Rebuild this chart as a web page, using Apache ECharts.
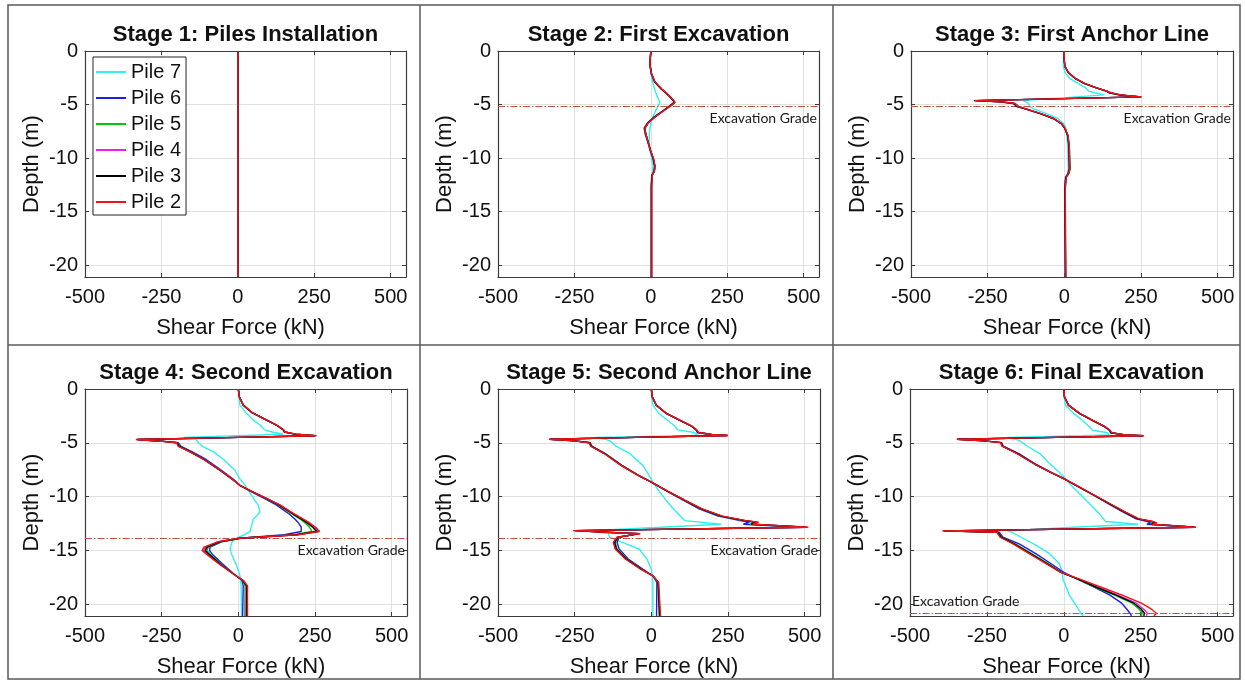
<!DOCTYPE html>
<html><head><meta charset="utf-8">
<script src="https://cdn.jsdelivr.net/npm/echarts@6/dist/echarts.min.js"></script>
<style>html,body{margin:0;padding:0;background:#fff}#c{width:1245px;height:682px}</style>
</head><body><div id="c"></div><script>
// ---------------- DATA ----------------
const pileNames = ['Pile 7', 'Pile 6', 'Pile 5', 'Pile 4', 'Pile 3', 'Pile 2'];
const stageTitles = ['Stage 1: Piles Installation', 'Stage 2: First Excavation', 'Stage 3: First Anchor Line',
  'Stage 4: Second Excavation', 'Stage 5: Second Anchor Line', 'Stage 6: Final Excavation'];
const xTicks = [-500, -250, 0, 250, 500];
const yTicks = [0, -5, -10, -15, -20];
const gradeDepth = [null, -5.2, -5.2, -13.9, -13.9, -20.85];
const gradeLabel = 'Excavation Grade';

// Stage 1
const s1Depth = [0, -21.1];
const s1P7 = [0, 0], s1P6 = [0, 0], s1P5 = [0, 0], s1P4 = [0, 0], s1P3 = [0, 0], s1P2 = [0, 0];

// Stage 2
const s2Depth = [0, -0.7, -1.3, -2.1, -2.9, -3.55, -4.1, -4.6, -4.8, -5.1, -5.6, -6.15, -6.7, -7.2, -7.7, -8.5, -9.3, -10.05, -10.75, -11.25, -11.6, -12.55, -21.1];
const s2P7 = [0, -1, -2, 0, 6, 12, 19, 26, 30, 24, 15, 7, 0, -3, -5, -5, -3, 3, 7, 6, 3, 2, 2];
const s2P6 = [0, -2, -3, 1, 12, 34, 56, 72, 76, 63, 38, 11, -11, -22, -19, -10, -2, 7, 12, 10, 3, 1, 1];
const s2P5 = [0, -2, -3, 2, 13, 34, 56, 73, 80, 66, 40, 13, -9, -20, -17, -9, -1, 8, 13, 11, 4, 2, 2];
const s2P4 = [0, -2, -3, 2, 13, 35, 57, 74, 78, 65, 40, 13, -9, -20, -17, -9, -1, 8, 13, 11, 4, 2, 2];
const s2P3 = [0, -2, -3, 2, 13, 35, 57, 73, 77, 64, 40, 13, -9, -20, -17, -9, -1, 8, 13, 11, 4, 2, 2];
const s2P2 = [0, -2, -3, 2, 14, 36, 58, 74, 78, 66, 41, 14, -8, -19, -17, -9, -1, 9, 14, 12, 5, 3, 3];

// Stage 3
const s3Depth = [0, -0.7, -1.45, -2.0, -2.55, -3.05, -3.45, -3.75, -3.9, -4.1, -4.28, -4.63, -4.75, -4.9, -5.2, -5.4, -5.85, -6.3, -6.8, -7.25, -7.9, -8.8, -11.0, -11.45, -11.8, -12.9, -21.1];
const s3P7 = [0, -3, -3, 2, 18, 46, 70, 80, 100, 130, 129, -134, -125, -117, -112, -100, -58, -22, -2, 5, 8, 11, 13, 10, 4, 2, 3];
const s3P6 = [0, -1, 2, 12, 34, 66, 104, 137, 142, 178, 246, -285, -200, -160, -148, -124, -76, -34, -8, 2, 11, 14, 16, 12, 4, 1, 3];
const s3P5 = [0, -1, 2, 13, 35, 66, 104, 137, 145, 180, 252, -290, -206, -163, -150, -126, -78, -35, -8, 3, 12, 16, 20, 15, 6, 3, 4];
const s3P4 = [0, -1, 2, 13, 35, 67, 105, 139, 148, 182, 250, -292, -208, -164, -152, -127, -78, -36, -9, 2, 11, 15, 17, 13, 5, 2, 4];
const s3P3 = [0, -1, 2, 13, 35, 67, 105, 138, 146, 180, 249, -295, -210, -166, -155, -128, -79, -36, -9, 2, 11, 15, 17, 13, 5, 2, 4];
const s3P2 = [0, -1, 2, 13, 36, 68, 106, 140, 150, 185, 252, -292, -205, -162, -150, -125, -77, -35, -8, 3, 12, 16, 18, 14, 6, 3, 5];

// Stage 4
const s4Depth = [0, -0.72, -1.5, -2.2, -2.8, -3.35, -3.8, -4.0, -4.2, -4.35, -4.5, -4.7, -4.85, -5.0, -5.3, -5.85, -6.55, -7.55, -8.35, -8.95, -9.6, -10.2, -10.8, -11.4, -11.6, -12.1, -12.4, -12.85, -13.25, -13.55, -13.87, -14.2, -14.7, -15.0, -15.35, -16.25, -17.2, -17.8, -18.3, -21.1];
const s4P7 = [0, 3, 5, 25, 45, 71, 86, 110, 146, 140, -178, -138, -133, -130, -118, -81, -48, -11, 5, 22, 37, 50, 65, 70, 66, 49, 46, 42, 38, 18, -5, -20, -26, -26, -22, -8, 4, 8, 9, 11];
const s4P6 = [0, 3, 16, 45, 86, 124, 147, 152, 185, 248, 2, -325, -250, -196, -188, -150, -105, -55, -18, 5, 46, 86, 125, 155, 165, 185, 195, 205, 205, 150, 5, -55, -92, -94, -85, -52, -14, 12, 16, 14];
const s4P5 = [0, 3, 16, 45, 86, 124, 147, 150, 185, 250, 2, -328, -252, -198, -193, -155, -111, -59, -20, 5, 49, 91, 132, 164, 175, 202, 216, 232, 240, 180, 5, -58, -98, -103, -92, -58, -15, 14, 22, 21];
const s4P4 = [0, 3, 16, 45, 86, 124, 147, 151, 186, 252, 1, -331, -254, -200, -195, -157, -112, -60, -21, 5, 50, 93, 135, 168, 180, 209, 226, 248, 260, 192, 4, -63, -107, -113, -100, -61, -16, 16, 26, 25];
const s4P3 = [0, 3, 16, 45, 86, 124, 147, 150, 185, 250, 2, -329, -253, -199, -194, -156, -112, -60, -21, 5, 50, 92, 134, 167, 178, 206, 222, 243, 255, 190, 5, -60, -102, -108, -96, -60, -16, 15, 27, 27];
const s4P2 = [0, 3, 16, 46, 87, 125, 148, 152, 188, 255, 0, -334, -255, -201, -197, -158, -113, -60, -21, 5, 51, 94, 137, 170, 182, 212, 230, 252, 265, 195, 3, -66, -112, -118, -104, -63, -16, 17, 30, 30];

// Stage 5
const s5Depth = [0, -0.72, -1.5, -2.27, -2.9, -3.42, -3.8, -4.04, -4.23, -4.32, -4.5, -4.67, -4.82, -5.0, -5.32, -6.0, -7.1, -8.03, -8.65, -9.52, -10.36, -11.14, -11.82, -12.23, -12.38, -12.57, -12.85, -13.16, -13.38, -13.44, -13.78, -14.25, -14.87, -15.8, -16.74, -17.36, -17.98, -21.1];
const s5P7 = [0, 2, 5, 25, 52, 76, 86, 141, 150, 140, -179, -150, -135, -131, -115, -70, -28, -7, 5, 26, 48, 72, 95, 109, 114, 228, 30, -200, -150, -140, -136, -95, -40, -14, 0, 3, 5, 5];
const s5P6 = [0, 3, 16, 48, 91, 129, 146, 150, 193, 245, -50, -327, -247, -199, -194, -150, -96, -41, 0, 52, 105, 156, 218, 290, 320, 300, 490, -245, -100, -45, -105, -112, -105, -75, -28, 5, 18, 17];
const s5P5 = [0, 3, 16, 49, 92, 130, 147, 152, 196, 247, -50, -330, -249, -200, -195, -151, -97, -42, 0, 53, 108, 162, 226, 300, 340, 322, 500, -248, -97, -40, -108, -118, -112, -80, -32, 5, 21, 26];
const s5P4 = [0, 3, 16, 49, 92, 130, 147, 153, 197, 249, -50, -332, -251, -202, -197, -153, -98, -43, 0, 54, 110, 164, 230, 307, 346, 328, 508, -252, -99, -37, -110, -122, -116, -83, -34, 5, 23, 28];
const s5P3 = [0, 3, 16, 49, 92, 130, 147, 152, 196, 248, -50, -331, -250, -201, -196, -152, -98, -43, 0, 54, 109, 163, 228, 304, 342, 326, 505, -250, -98, -38, -109, -120, -114, -82, -33, 5, 22, 27];
const s5P2 = [0, 3, 16, 50, 93, 131, 148, 154, 198, 250, -50, -334, -252, -203, -198, -154, -99, -43, 0, 55, 111, 166, 232, 310, 350, 330, 512, -255, -100, -36, -112, -124, -118, -85, -35, 5, 24, 30];

// Stage 6
const s6Depth = [0, -0.72, -1.5, -2.27, -2.95, -3.5, -3.83, -4.07, -4.26, -4.35, -4.5, -4.67, -4.82, -4.98, -5.32, -6.0, -6.95, -7.78, -8.34, -9.05, -9.9, -10.76, -11.45, -12.07, -12.32, -12.44, -12.57, -12.85, -13.19, -13.31, -13.78, -14.4, -15.33, -16.27, -17.04, -17.67, -18.45, -19.16, -19.91, -20.47, -20.84, -21.1];
const s6P7 = [0, 1, 5, 32, 62, 83, 93, 143, 146, 60, -183, -155, -143, -139, -118, -78, -46, -13, 5, 27, 57, 87, 111, 129, 135, 138, 241, 30, -183, -170, -139, -98, -45, -14, -5, -3, 8, 18, 35, 47, 56, 62];
const s6P6 = [0, 2, 15, 50, 94, 132, 148, 152, 195, 255, -25, -342, -256, -202, -197, -146, -93, -40, 0, 45, 98, 150, 193, 235, 272, 282, 270, 420, -386, -210, -198, -145, -90, -40, 0, 45, 100, 150, 188, 205, 215, 220];
const s6P5 = [0, 2, 15, 51, 95, 133, 149, 154, 198, 257, -25, -345, -258, -204, -199, -150, -96, -41, 0, 46, 100, 154, 198, 241, 284, 297, 284, 424, -389, -214, -203, -158, -103, -48, -7, 45, 105, 165, 222, 245, 255, 252];
const s6P4 = [0, 2, 15, 51, 95, 133, 149, 155, 199, 259, -25, -347, -259, -205, -200, -151, -96, -41, 0, 46, 101, 155, 199, 243, 288, 300, 286, 428, -392, -216, -205, -163, -109, -53, -9, 48, 112, 176, 236, 260, 272, 268];
const s6P3 = [0, 2, 15, 51, 95, 133, 149, 154, 198, 258, -25, -346, -259, -204, -199, -150, -96, -41, 0, 46, 100, 154, 198, 241, 285, 298, 285, 426, -391, -215, -204, -161, -107, -52, -9, 46, 108, 170, 228, 252, 262, 260];
const s6P2 = [0, 2, 15, 52, 96, 134, 150, 156, 200, 260, -25, -348, -260, -206, -201, -152, -97, -41, 0, 47, 102, 157, 201, 245, 290, 303, 288, 430, -395, -218, -207, -165, -111, -55, -10, 52, 124, 190, 252, 285, 301, 293];

// ---------------- BUILD ----------------
const stageDepths = [s1Depth, s2Depth, s3Depth, s4Depth, s5Depth, s6Depth];
const stagePiles = [
  [s1P7, s1P6, s1P5, s1P4, s1P3, s1P2],
  [s2P7, s2P6, s2P5, s2P4, s2P3, s2P2],
  [s3P7, s3P6, s3P5, s3P4, s3P3, s3P2],
  [s4P7, s4P6, s4P5, s4P4, s4P3, s4P2],
  [s5P7, s5P6, s5P5, s5P4, s5P3, s5P2],
  [s6P7, s6P6, s6P5, s6P4, s6P3, s6P2]
];
const pileColors = ['#2ff0f0', '#1e1ee6', '#00c800', '#f01ef0', '#000000', '#f01414'];
const FONT = '"Liberation Sans", Arial, Helvetica, sans-serif';
const LBL_FONT = 'Lato, "Open Sans", "Noto Sans", sans-serif';
const XMIN = -500, XMAX = 550, YMIN = -21.1, YMAX = 0;

// panel plot rectangles [left, top, width, height]
const panels = [[85, 51, 321, 226], [498, 51, 321, 226], [911, 51, 322, 226],
                [85, 389, 322, 227], [498, 389, 322, 227], [910, 389, 323, 227]];

const axisCol = '#3c3c3c';
const grids = panels.map(p => ({left: p[0], top: p[1], width: p[2], height: p[3], containLabel: false, outerBoundsMode: 'none'}));

const xAxes = [], yAxes = [];
panels.forEach((p, i) => {
  xAxes.push({
    gridIndex: i, type: 'value', min: XMIN, max: XMAX, interval: 250, position: 'bottom',
    axisLine: {show: true, onZero: false, lineStyle: {color: axisCol, width: 1.2}},
    axisTick: {show: true, inside: true, length: 4, lineStyle: {color: axisCol}},
    axisLabel: {show: true, margin: 10, fontSize: 20, fontFamily: FONT, color: '#111',
      showMaxLabel: false, showMinLabel: true,
      formatter: v => (xTicks.indexOf(v) >= 0 ? String(v) : '')},
    splitLine: {show: true, lineStyle: {color: '#e0e0e0', width: 1}},
    name: 'Shear Force (kN)', nameLocation: 'middle', nameGap: 40,
    nameTextStyle: {fontSize: 22, fontFamily: FONT, color: '#111', padding: [0, 10, 0, 0]}
  });
  yAxes.push({
    gridIndex: i, type: 'value', min: YMIN, max: YMAX, minInterval: 5, maxInterval: 5, position: 'left',
    axisLine: {show: true, onZero: false, lineStyle: {color: axisCol, width: 1.2}},
    axisTick: {show: true, inside: true, length: 4, lineStyle: {color: axisCol}},
    axisLabel: {show: true, margin: 7, fontSize: 20, fontFamily: FONT, color: '#111',
      showMinLabel: false,
      formatter: v => (yTicks.indexOf(Math.round(v * 1000) / 1000) >= 0 ? String(Math.round(v)) : '')},
    splitLine: {show: true, lineStyle: {color: '#e0e0e0', width: 1}},
    name: 'Depth (m)', nameLocation: 'middle', nameGap: 42,
    nameTextStyle: {fontSize: 22, fontFamily: FONT, color: '#111'}
  });
});
// box: top and right axes
panels.forEach((p, i) => {
  xAxes.push({
    gridIndex: i, type: 'value', min: XMIN, max: XMAX, interval: 250, position: 'top',
    axisLine: {show: true, onZero: false, lineStyle: {color: axisCol, width: 1.2}},
    axisTick: {show: true, inside: true, length: 4, lineStyle: {color: axisCol}},
    axisLabel: {show: false}, splitLine: {show: false}
  });
  yAxes.push({
    gridIndex: i, type: 'value', min: YMIN, max: YMAX, minInterval: 5, maxInterval: 5, position: 'right',
    axisLine: {show: true, onZero: false, lineStyle: {color: axisCol, width: 1.2}},
    axisTick: {show: true, inside: true, length: 4, lineStyle: {color: axisCol}},
    axisLabel: {show: false}, splitLine: {show: false}
  });
});

const series = [];
stageDepths.forEach((depth, i) => {
  stagePiles[i].forEach((vals, j) => {
    const s = {
      type: 'line', name: pileNames[j], xAxisIndex: i, yAxisIndex: i,
      data: depth.map((d, k) => [vals[k], d]),
      symbol: 'none', showSymbol: false, clip: true, animation: false, silent: true,
      lineStyle: {color: pileColors[j], width: 1.4},
      itemStyle: {color: pileColors[j]},
      emphasis: {disabled: true},
      z: 2 + j
    };
    if (j === 5 && gradeDepth[i] !== null) {
      s.markLine = {
        silent: true, animation: false, symbol: ['none', 'none'],
        lineStyle: {color: '#c8504a', width: 1, type: [7, 2, 1.5, 2]},
        emphasis: {disabled: true},
        label: {show: true, formatter: gradeLabel, position: i === 5 ? 'insideStartTop' : 'insideEndBottom',
          color: '#1a1a1a', fontSize: 14, fontFamily: LBL_FONT, distance: [2, 5]},
        data: [{yAxis: gradeDepth[i]}]
      };
    }
    series.push(s);
  });
});

const titles = panels.map((p, i) => ({
  text: stageTitles[i], left: p[0] + p[2] / 2, top: p[1] - 27, textAlign: 'center', padding: 0,
  textStyle: {fontSize: 22, fontWeight: 'bold', fontFamily: FONT, color: '#111'}
}));

const frame = [
  {type: 'rect', shape: {x: 8, y: 5, width: 1232, height: 674}, style: {fill: 'none', stroke: '#5a5a5a', lineWidth: 1.5}, silent: true},
  {type: 'line', shape: {x1: 420, y1: 5, x2: 420, y2: 679}, style: {stroke: '#5a5a5a', lineWidth: 1.5}, silent: true},
  {type: 'line', shape: {x1: 833, y1: 5, x2: 833, y2: 679}, style: {stroke: '#5a5a5a', lineWidth: 1.5}, silent: true},
  {type: 'line', shape: {x1: 8, y1: 345, x2: 1240, y2: 345}, style: {stroke: '#5a5a5a', lineWidth: 1.5}, silent: true}
];

const chart = echarts.init(document.getElementById('c'), null, {renderer: 'canvas'});
chart.setOption({
  backgroundColor: '#ffffff',
  animation: false,
  title: titles,
  grid: grids,
  xAxis: xAxes,
  yAxis: yAxes,
  legend: {
    orient: 'vertical', left: 93, top: 57, data: pileNames, icon: 'rect',
    itemWidth: 30, itemHeight: 2, itemGap: 4, selectedMode: false,
    borderColor: '#222', borderWidth: 1, padding: [4, 5, 2, 3], backgroundColor: '#ffffff',
    textStyle: {fontSize: 20, fontFamily: FONT, color: '#111', lineHeight: 22}, z: 10
  },
  graphic: frame,
  series: series
});
</script></body></html>
